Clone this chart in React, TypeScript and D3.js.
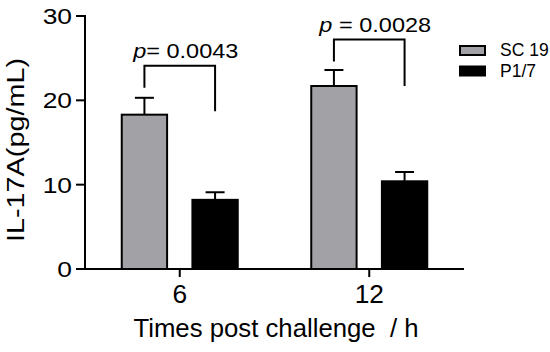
import React from "react";
import * as d3 from "d3";

const categories = ["6", "12"];
const series = ["SC 19", "P1/7"];
const sc19Values = [18.3, 21.7];
const sc19Errors = [2.0, 1.9];
const p17Values = [8.2, 10.4];
const p17Errors = [0.9, 1.1];
const pLabels = ["0.0043", "0.0028"];
const pPrefix = ["= ", " = "];
const bracketTop = [24.1, 27.2];
const bracketLeftBottom = [21.5, 24.6];
const bracketRightBottom = [18.7, 21.7];
const yTicks = [0, 10, 20, 30];
const seriesColors = ["#a2a2a6", "#000000"];

const W = 550;
const H = 352;
const FONT = "'Liberation Sans', Arial, Helvetica, sans-serif";

export default function App() {
  const x0 = d3.scaleBand<string>().domain(categories).range([85, 464]).paddingInner(0).paddingOuter(0);
  const x1 = d3.scaleBand<string>().domain(series).range([-59, 59]).paddingInner(0.33).paddingOuter(0);
  const y = d3.scaleLinear().domain([0, 30]).range([269, 16]);
  const bw = x1.bandwidth();
  const center = (c: string) => (x0(c) as number) + x0.bandwidth() / 2;
  const sx = (c: string, s: string) => center(c) + (x1(s) as number);
  const values = [sc19Values, p17Values];
  const errors = [sc19Errors, p17Errors];

  return (
    <svg width={W} height={H} style={{ position: "absolute", left: 0, top: 0, background: "#fff" }} fontFamily={FONT}>
      {/* bars */}
      {categories.map((c, ci) =>
        series.map((s, si) => {
          const v = values[si][ci];
          const e = errors[si][ci];
          const bx = sx(c, s);
          const cx = bx + bw / 2;
          return (
            <g key={c + s}>
              <line x1={cx} x2={cx} y1={y(v)} y2={y(v + e)} stroke="#000" strokeWidth={2} />
              <line x1={cx - 9.5} x2={cx + 9.5} y1={y(v + e)} y2={y(v + e)} stroke="#000" strokeWidth={2} />
              <rect x={bx + 1} y={y(v)} width={bw - 2} height={y(0) - y(v)} fill={seriesColors[si]} stroke="#000" strokeWidth={2} />
            </g>
          );
        })
      )}
      {/* brackets */}
      {categories.map((c, ci) => {
        const lx = sx(c, series[0]) + bw / 2;
        const rx = sx(c, series[1]) + bw / 2;
        const ty = y(bracketTop[ci]);
        const mid = (lx + rx) / 2 + 6;
        return (
          <g key={"br" + c}>
            <path
              d={`M${lx},${y(bracketLeftBottom[ci])}V${ty}H${rx}V${y(bracketRightBottom[ci])}`}
              fill="none"
              stroke="#000"
              strokeWidth={2}
            />
            <text
              transform={`translate(${mid},${ty - 8}) scale(1.12,1)`}
              textAnchor="middle"
              fontSize={21}
              fill="#000"
              style={{ whiteSpace: "pre" }}
            >
              <tspan fontStyle="italic">p</tspan>
              {pPrefix[ci] + pLabels[ci]}
            </text>
          </g>
        );
      })}
      {/* y axis */}
      <line x1={85} x2={85} y1={y(30) - 1} y2={y(0)} stroke="#000" strokeWidth={2} />
      {yTicks.map((t) => (
        <g key={"yt" + t}>
          <line x1={76} x2={85} y1={y(t)} y2={y(t)} stroke="#000" strokeWidth={2} />
          <text transform={`translate(72,${y(t) + 8}) scale(1.2,1)`} textAnchor="end" fontSize={22} fill="#000">
            {t}
          </text>
        </g>
      ))}
      {/* x axis */}
      <line x1={84} x2={464} y1={y(0)} y2={y(0)} stroke="#000" strokeWidth={2} />
      {categories.map((c) => (
        <g key={"xt" + c}>
          <line x1={center(c)} x2={center(c)} y1={y(0)} y2={y(0) + 8} stroke="#000" strokeWidth={2} />
          <text transform={`translate(${center(c)},303) scale(1.05,1)`} textAnchor="middle" fontSize={25} fill="#000">
            {c}
          </text>
        </g>
      ))}
      {/* axis titles */}
      <text
        transform="translate(276,337) scale(1.03,1)"
        textAnchor="middle"
        fontSize={25}
        fill="#000"
        style={{ whiteSpace: "pre" }}
      >
        {"Times post challenge  / h"}
      </text>
      <text transform="translate(24,150) rotate(-90) scale(1.2,1)" textAnchor="middle" fontSize={24} fill="#000">
        IL-17A(pg/mL)
      </text>
      {/* legend */}
      {series.map((s, si) => (
        <g key={"lg" + s} transform={`translate(459,${45 + si * 20.5})`}>
          <rect x={1} y={1} width={25} height={9} fill={seriesColors[si]} stroke="#000" strokeWidth={2} />
          <text x={41} y={11} fontSize={17.5} fill="#000">
            {s}
          </text>
        </g>
      ))}
    </svg>
  );
}
